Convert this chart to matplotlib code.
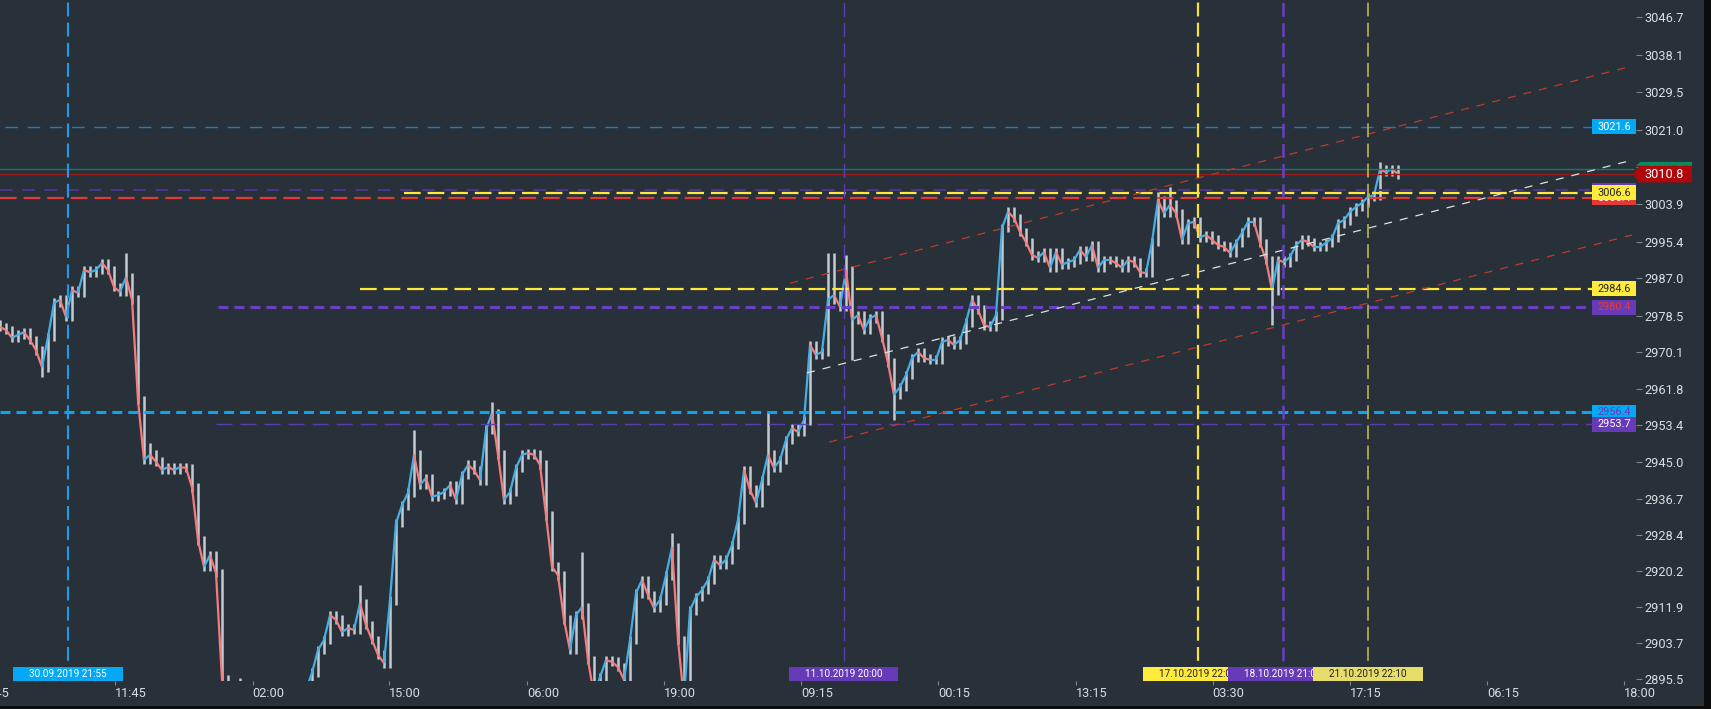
import matplotlib
matplotlib.use("Agg")
import matplotlib.pyplot as plt
import matplotlib.transforms as mtransforms
from matplotlib.patches import Rectangle, Polygon

plt.rcParams['font.family'] = ['Roboto', 'DejaVu Sans']
plt.rcParams['lines.scale_dashes'] = False

# closing prices, one bar per step
closes = [
    2975.9, 2975.2, 2973.4, 2974.1, 2974.7, 2972.9, 2970.6, 2966.7, 2973.6, 2981.4,
    2982.1, 2978.2, 2984.3, 2983.7, 2988.9, 2988.4, 2988.9, 2990.5, 2988.9, 2985.0,
    2983.9, 2987.3, 2982.1, 2959.2, 2945.5, 2946.7, 2945.1, 2943.2, 2943.9, 2943.2,
    2943.9, 2943.7, 2939.3, 2927.2, 2921.1, 2923.8, 2919.7, 2895.3, 2890.7, 2889.5,
    2891.8, 2889.5, 2888.4, 2888.0, 2888.4, 2889.5, 2888.9, 2888.0, 2889.5, 2890.7,
    2891.8, 2893.0, 2896.9, 2902.1, 2904.4, 2910.1, 2909.0, 2906.2, 2907.1, 2906.7,
    2912.8, 2907.8, 2904.4, 2901.0, 2899.1, 2913.5, 2931.1, 2935.2, 2938.0, 2946.7,
    2939.8, 2941.4, 2937.1, 2937.5, 2938.2, 2939.8, 2936.4, 2942.1, 2944.4, 2943.2,
    2940.9, 2952.4, 2956.2, 2946.7, 2936.4, 2938.2, 2943.7, 2946.7, 2947.1, 2946.7,
    2944.4, 2932.9, 2921.1, 2919.2, 2909.0, 2902.1, 2910.1, 2911.9, 2899.8, 2891.8,
    2895.9, 2899.8, 2899.4, 2898.2, 2895.3, 2904.4, 2915.1, 2918.1, 2914.7, 2911.7,
    2913.5, 2919.2, 2925.6, 2904.4, 2890.7, 2911.2, 2914.2, 2915.8, 2918.1, 2922.7,
    2921.5, 2922.7, 2926.1, 2931.8, 2943.2, 2938.7, 2935.7, 2940.9, 2946.7, 2943.7,
    2945.5, 2950.1, 2952.8, 2951.9, 2954.6, 2971.8, 2969.5, 2970.2, 2982.1, 2983.2,
    2980.5, 2988.9, 2977.5, 2978.6, 2975.2, 2977.9, 2978.6, 2973.4, 2967.7, 2960.4,
    2962.2, 2964.9, 2968.8, 2970.2, 2968.8, 2968.4, 2968.4, 2972.5, 2972.9, 2971.8,
    2972.9, 2977.0, 2982.1, 2979.8, 2976.3, 2975.9, 2978.6, 2998.5, 3002.2, 3000.8,
    2997.6, 2995.3, 2992.3, 2991.7, 2993.0, 2989.4, 2993.0, 2990.1, 2990.7, 2991.2,
    2993.5, 2991.9, 2994.6, 2989.4, 2991.2, 2991.2, 2990.5, 2989.4, 2991.2, 2990.7,
    2988.4, 2988.2, 2995.3, 3004.9, 3001.9, 3003.8, 3001.9, 2995.8, 2999.6, 2999.9,
    2996.4, 2996.9, 2995.8, 2994.6, 2994.2, 2992.8, 2995.1, 2997.4, 2999.9, 2999.9,
    2995.1, 2991.2, 2984.3, 2991.2, 2990.7, 2991.9, 2994.6, 2995.8, 2995.3, 2994.2,
    2994.2, 2995.1, 2996.2, 2999.6, 3000.3, 3002.2, 3003.3, 3004.2, 3005.6, 3006.0,
    3011.8, 3011.3, 3012.0, 3010.8,
]
# bars with long wicks: index -> (high, low)
wick_spikes = {
    7: (None, 2964.5), 21: (2992.8, None), 25: (2949.4, None), 40: (2895.7, None),
    60: (2917.0, None), 69: (2952.4, None), 82: (2958.8, None), 97: (2924.5, None),
    112: (2928.8, None), 128: (2956.5, None), 138: (2992.8, None), 139: (2992.8, None),
    141: (2992.3, None), 142: (None, 2968.4), 149: (None, 2954.6), 168: (3003.3, None),
    193: (3006.7, None), 195: (3007.9, None), 212: (None, 2976.3), 230: (3013.6, None),
}
wick_pad = 1.0

y_ticks = [3046.7, 3038.1, 3029.5, 3021.0, 3012.4, 3003.9, 2995.4, 2987.0, 2978.5,
           2970.1, 2961.8, 2953.4, 2945.0, 2936.7, 2928.4, 2920.2, 2911.9, 2903.7, 2895.5]
x_tick_pos = [-3.7, 19.2, 42.1, 64.9, 87.8, 110.6, 133.5, 156.4, 179.3, 202.1, 225.0, 247.9, 270.7]
x_tick_labels = ['21:45', '11:45', '02:00', '15:00', '06:00', '19:00', '09:15',
                 '00:15', '13:15', '03:30', '17:15', '06:15', '18:00']

# horizontal levels: price, start bar, colour, width, dashes
level_price = [3021.6, 3011.9, 3010.8, 3007.1, 3005.4, 3006.6, 2984.6, 2980.4, 2956.4, 2953.7]
level_start = [0.8, 0, 0, 0, 0, 67.3, 60.0, 36.3, 0, 36.0]
level_color = ['#1a7fc0', '#0f7b5f', '#9b1b1b', '#4b3591', '#e53935', '#ffe93b',
               '#ffe93b', '#6a3fc4', '#0aa5ef', '#5b3fb0']
level_lw = [1.0, 1.0, 1.0, 1.4, 1.6, 1.6, 1.6, 2.2, 2.2, 1.0]
level_dash = [(9, 7), None, None, (9, 7), (12, 5), (12, 5), (12, 5), (7.2, 4.3), (7.2, 4.3), (11.5, 5.8)]

# price tags on the right: price, face, text colour
tag_price = [3021.6, 3007.1, 3005.4, 3006.6, 2984.6, 2980.4, 2956.4, 2953.7]
tag_face = ['#03a9f4', '#673ab7', '#e53935', '#ffeb3b', '#ffeb3b', '#673ab7', '#03a9f4', '#673ab7']
tag_text = ['white', 'white', 'white', '#222222', '#222222', '#e53935', '#673ab7', 'white']
last_price = 3010.8

# event markers
event_bar = [11.3, 140.6, 199.7, 213.8, 228.0]
event_label = ['30.09.2019 21:55', '11.10.2019 20:00', '17.10.2019 22:00',
               '18.10.2019 21:00', '21.10.2019 22:10']
event_color = ['#03a9f4', '#673ab7', '#ffeb3b', '#673ab7', '#e6dc6a']
event_line = ['#1e9be9', '#5b3fb0', '#f7e23b', '#6a3fc0', '#b2a94c']
event_text = ['white', 'white', '#222222', 'white', '#222222']
event_lw = [1.5, 1.0, 1.6, 1.8, 1.3]

# trend channel: (start bar, start price, end bar, end price)
channel = [(131.7, 2985.9, 272.0, 3035.5), (134.5, 2965.4, 272.0, 3014.0), (138.2, 2949.6, 272.0, 2996.9)]
channel_color = ['#c0392b', '#e0e0e0', '#c0392b']

bg = '#28313a'
fig = plt.figure(figsize=(17.11, 7.09), dpi=100, facecolor=bg)
ax = fig.add_axes([0, 28 / 709, 1636 / 1711, 681 / 709])
ax.set_facecolor(bg)
ax.set_xlim(0, 272.67)
ax.set_ylim(2895.03, 3050.58)
for s in ax.spines.values():
    s.set_visible(False)

# candles: grey wick + coloured move from previous close
for i, c in enumerate(closes):
    o = closes[i - 1] if i > 0 else c + 0.5
    hi = max(o, c) + wick_pad
    lo = min(o, c) - wick_pad
    if i in wick_spikes:
        h2, l2 = wick_spikes[i]
        if h2 is not None:
            hi = max(hi, h2)
        if l2 is not None:
            lo = min(lo, l2)
    ax.plot([i, i], [lo, hi], color='#c3cbd0', lw=1.8, solid_capstyle='butt', zorder=3)
for i in range(1, len(closes)):
    col = '#45aee6' if closes[i] >= closes[i - 1] else '#f47c7c'
    ax.plot([i - 1, i], [closes[i - 1], closes[i]], color=col, lw=1.6, zorder=4,
            solid_capstyle='butt')

# horizontal levels
for p, x0, col, lw, d in zip(level_price, level_start, level_color, level_lw, level_dash):
    x1 = 272.2 if d is None else 265.3
    ln, = ax.plot([x0, x1], [p, p], color=col, lw=lw, zorder=5)
    if d is not None:
        ln.set_dashes(d)

# channel
for (xa, ya, xb, yb), col in zip(channel, channel_color):
    ax.plot([xa, xb], [ya, yb], color=col, lw=0.9, dashes=(5.8, 5.8), zorder=5)

# vertical event lines
for xv, col, lw in zip(event_bar, event_line, event_lw):
    ax.axvline(xv, color=col, lw=lw, dashes=(10, 4.5), zorder=5)

# axis ticks
ax.yaxis.tick_right()
ax.set_yticks(y_ticks)
ax.set_yticklabels([f'{v:.1f}' for v in y_ticks])
ax.tick_params(axis='y', length=4, width=0.8, color='#7d878f', pad=2,
               labelsize=9.2, labelcolor='#d8dde1')
ax.set_xticks(x_tick_pos)
ax.set_xticklabels(x_tick_labels, ha='left')
ax.tick_params(axis='x', length=3, width=0.8, color='#7d878f', pad=1,
               labelsize=9.2, labelcolor='#d8dde1')
ax.set_xlim(0, 272.67)

tb = mtransforms.blended_transform_factory(ax.transData, ax.transAxes)
# first time label sits partly off the left edge
off = mtransforms.ScaledTranslation(0, -4.6 / 72, fig.dpi_scale_trans)
ax.text(x_tick_pos[0], 0, x_tick_labels[0], transform=tb + off, ha='left', va='top',
        fontsize=9.2, color='#d8dde1', clip_on=False)

# right price tags
tr = mtransforms.blended_transform_factory(ax.transAxes, ax.transData)
h = 3.43
for k, (p, face, tc) in enumerate(zip(tag_price, tag_face, tag_text)):
    ax.add_patch(Rectangle((1592 / 1636, p - h / 2), 44 / 1636, h, transform=tr,
                           facecolor=face, edgecolor='none', clip_on=False, zorder=10 + k))
    ax.text(1614 / 1636, p, f'{p:.1f}', transform=tr, ha='center', va='center',
            fontsize=7.8, color=tc, clip_on=False, zorder=10.5 + k)

# last price tag with pointer
X = lambda px: px / 1636
ax.add_patch(Polygon([(X(1636), last_price + 1.9), (X(1640), last_price + 2.8),
                      (X(1692), last_price + 2.8), (X(1692), last_price + 1.9)],
                     closed=True, transform=tr, facecolor='#0b8a5e', edgecolor='none',
                     clip_on=False, zorder=30))
ax.add_patch(Polygon([(X(1633), last_price), (X(1639), last_price + 1.9),
                      (X(1692), last_price + 1.9), (X(1692), last_price - 1.9),
                      (X(1639), last_price - 1.9)],
                     closed=True, transform=tr, facecolor='#b0080a', edgecolor='none',
                     clip_on=False, zorder=30))
ax.text(X(1664), last_price, f'{last_price:.1f}', transform=tr, ha='center', va='center',
        fontsize=9.2, color='white', clip_on=False, zorder=31)

# bottom event date tags
for k, (xv, lab, face, tc) in enumerate(zip(event_bar, event_label, event_color, event_text)):
    ax.add_patch(Rectangle((xv - 9.15, 0), 18.3, 14 / 681, transform=tb, facecolor=face,
                           edgecolor='none', clip_on=False, zorder=40 + k))
    ax.text(xv, 7 / 681, lab, transform=tb, ha='center', va='center', fontsize=7.2,
            color=tc, clip_on=False, zorder=40.5 + k)

# frame edges
fig.patches.append(Rectangle((1704 / 1711, 0), 7 / 1711, 1, transform=fig.transFigure,
                             facecolor='#0c0c0c', edgecolor='none'))
fig.patches.append(Rectangle((0, 0), 1, 3 / 709, transform=fig.transFigure,
                             facecolor='#0c0c0c', edgecolor='none'))

fig.savefig('out.png', dpi=100, facecolor=bg)
